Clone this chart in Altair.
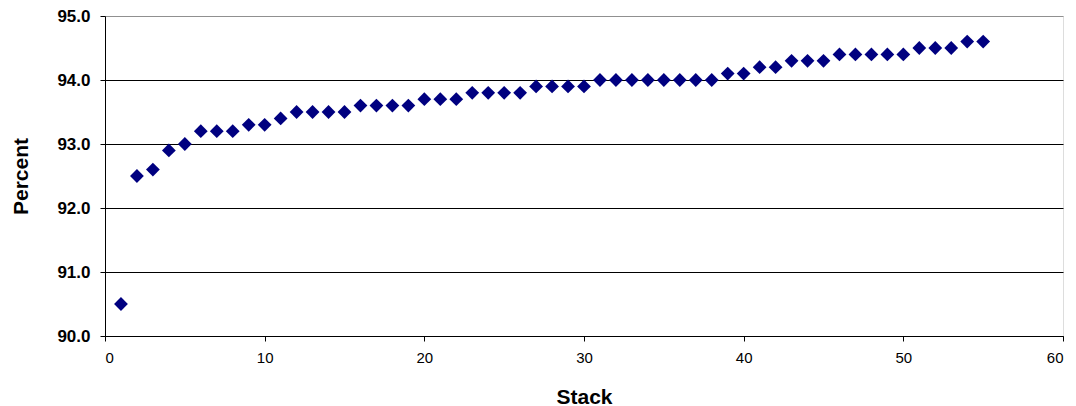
import altair as alt
import pandas as pd

stack = list(range(1, 56))
percent = [
    90.5, 92.5, 92.6, 92.9, 93.0, 93.2, 93.2, 93.2, 93.3, 93.3,
    93.4, 93.5, 93.5, 93.5, 93.5, 93.6, 93.6, 93.6, 93.6, 93.7,
    93.7, 93.7, 93.8, 93.8, 93.8, 93.8, 93.9, 93.9, 93.9, 93.9,
    94.0, 94.0, 94.0, 94.0, 94.0, 94.0, 94.0, 94.0, 94.1, 94.1,
    94.2, 94.2, 94.3, 94.3, 94.3, 94.4, 94.4, 94.4, 94.4, 94.4,
    94.5, 94.5, 94.5, 94.6, 94.6,
]
x_ticks = [0, 10, 20, 30, 40, 50, 60]
y_ticks = [90, 91, 92, 93, 94, 95]

df = pd.DataFrame({"Stack": stack, "Percent": percent})

FONT = "Liberation Sans"

chart = alt.Chart(df).mark_point(
    shape="diamond", filled=True, color="#000080", size=190, opacity=1
).encode(
    x=alt.X(
        "Stack:Q",
        scale=alt.Scale(domain=[0, 60], nice=False, zero=False),
        axis=alt.Axis(
            values=x_ticks, grid=False, title="Stack",
            labelFont=FONT, labelFontSize=15, labelColor="#000",
            labelPadding=9, tickSize=5, tickColor="#000",
            domainColor="#000",
            titleFont=FONT, titleFontSize=21, titleFontWeight="bold",
            titleColor="#000", titleY=67, titleBaseline="alphabetic",
        ),
    ),
    y=alt.Y(
        "Percent:Q",
        scale=alt.Scale(domain=[90, 95], nice=False, zero=False),
        axis=alt.Axis(
            values=y_ticks, format=".1f", grid=True,
            gridColor={"condition": {"test": "datum.value >= 95", "value": "#909090"}, "value": "#000"},
            gridWidth=1, gridOpacity=1,
            labelFont=FONT, labelFontSize=17, labelFontWeight="bold",
            labelColor="#000", labelPadding=10, tickSize=5, tickColor="#000",
            domainColor="#000", title="Percent",
            titleFont=FONT, titleFontSize=21, titleFontWeight="bold",
            titleColor="#000", titleX=-78, titleY=160, titleBaseline="alphabetic",
            titleAngle=270,
        ),
    ),
).properties(
    width=958,
    height=320,
    autosize=alt.AutoSizeParams(type="none"),
    padding={"left": 97, "top": 8, "right": 5, "bottom": 70},
).configure_view(
    stroke="#909090", strokeWidth=1.5
).configure(background="white")

chart.save("out.html", embed_options={"renderer": "svg", "actions": False})
